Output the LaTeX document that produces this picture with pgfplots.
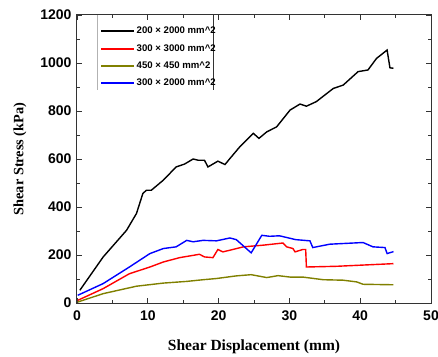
\documentclass[border=0pt]{standalone}
\usepackage{pgfplots}
\pgfplotsset{compat=1.18}
\usepackage{fontspec}
\setmainfont{Liberation Serif}
\setsansfont{Liberation Sans}
\definecolor{olive2}{RGB}{128,128,0}
\begin{document}
\begin{tikzpicture}
\begin{axis}[
  scale only axis, width=354pt, height=288pt,
  xmin=0, xmax=50, ymin=0, ymax=1200,
  xtick={0,10,...,50}, ytick={0,200,...,1200},
  minor x tick num=1, minor y tick num=1,
  tick align=inside, tick pos=both,
  major tick length=5pt, minor tick length=3pt,
  axis line style={line width=1pt, black!80},
  every tick/.style={line width=0.8pt, black!80},
  /pgf/number format/assume math mode=true,
  /pgf/number format/1000 sep={},
  ticklabel style={font=\sffamily\bfseries\fontsize{14}{14}\selectfont},
  xticklabel style={yshift=-4pt},
  yticklabel style={xshift=-2pt},
  xlabel={\bfseries Shear Displacement (mm)},
  ylabel={\bfseries Shear Stress (kPa)},
  xlabel style={font=\fontsize{15.5}{16}\selectfont, yshift=-12pt},
  ylabel style={font=\fontsize{14.3}{15}\selectfont, yshift=7pt},
  legend style={at={([yshift=-7pt]rel axis cs:0.056,1)}, anchor=north west, draw=none, fill=none,
    font=\sffamily\bfseries\fontsize{9.6}{10}\selectfont, row sep=5pt, inner sep=3pt},
  legend cell align=left,
  legend image code/.code={\draw[#1, line width=2pt] (0cm,0cm) -- (1.15cm,0cm);},
  every axis plot/.append style={line width=1.4pt},
]
\addplot[black] coordinates {
(0.4,53) (3.7,192) (7.0,303) (8.4,373) (9.3,456) (9.8,470) (10.5,470) (12.2,512)
(14.0,567) (15.2,579) (16.4,600) (17.1,595) (18.0,595) (18.5,567) (19.9,591)
(20.9,577) (21.6,602) (23.0,651) (24.9,707) (25.7,686) (26.8,713) (28.2,734)
(30.1,804) (31.5,829) (32.4,820) (33.8,839) (36.2,894) (37.6,908) (39.7,964)
(41.1,971) (42.3,1019) (43.8,1054) (44.2,980) (44.7,978)};
\addlegendentry{200 × 2000 mm\textasciicircum 2}
\addplot[red] coordinates {
(0.1,11) (3.7,60) (7.4,122) (10.3,150) (12.2,171) (14.5,189) (17.3,203) (18.0,192)
(19.2,189) (19.9,223) (20.6,213) (21.6,220) (23.5,234) (26.3,241) (29.1,250)
(29.6,234) (30.5,227) (30.8,213) (31.9,223) (32.3,223) (32.4,150) (36.7,153) (44.7,164)};
\addlegendentry{300 × 3000 mm\textasciicircum 2}
\addplot[olive2] coordinates {
(0.1,4) (3.7,39) (8.4,70) (12.2,83) (15.5,90) (17.8,97) (19.7,102) (22.5,113)
(24.6,118) (26.8,106) (28.4,114) (30.1,108) (31.9,108) (34.8,97) (37.6,95)
(39.5,88) (40.4,78) (44.7,76)};
\addlegendentry{450 × 450 mm\textasciicircum 2}
\addplot[blue] coordinates {
(0.1,32) (3.7,81) (7.4,150) (10.3,206) (12.2,227) (14.0,234) (15.5,261) (16.4,255)
(17.8,261) (19.7,259) (21.6,271) (22.5,264) (24.6,209) (26.1,282) (27.2,278)
(28.6,280) (30.9,264) (32.9,259) (33.3,231) (35.7,245) (40.4,252) (41.8,234)
(43.5,231) (43.8,206) (44.7,214)};
\addlegendentry{300 × 2000 mm\textasciicircum 2}
\coordinate (bl) at (rel axis cs:0,0);
\coordinate (tr) at (rel axis cs:1,1);
\draw[gray!60, line width=0.6pt] (rel axis cs:0.056,1) -- (rel axis cs:0.056,0.74);
\draw[black!80, line width=0.6pt] (rel axis cs:0.384,1) -- (rel axis cs:0.384,0.74);
\end{axis}
\pgfresetboundingbox
\useasboundingbox ([shift={(-77pt,-53pt)}]bl) rectangle ([shift={(7pt,15pt)}]tr);
\end{tikzpicture}
\end{document}
